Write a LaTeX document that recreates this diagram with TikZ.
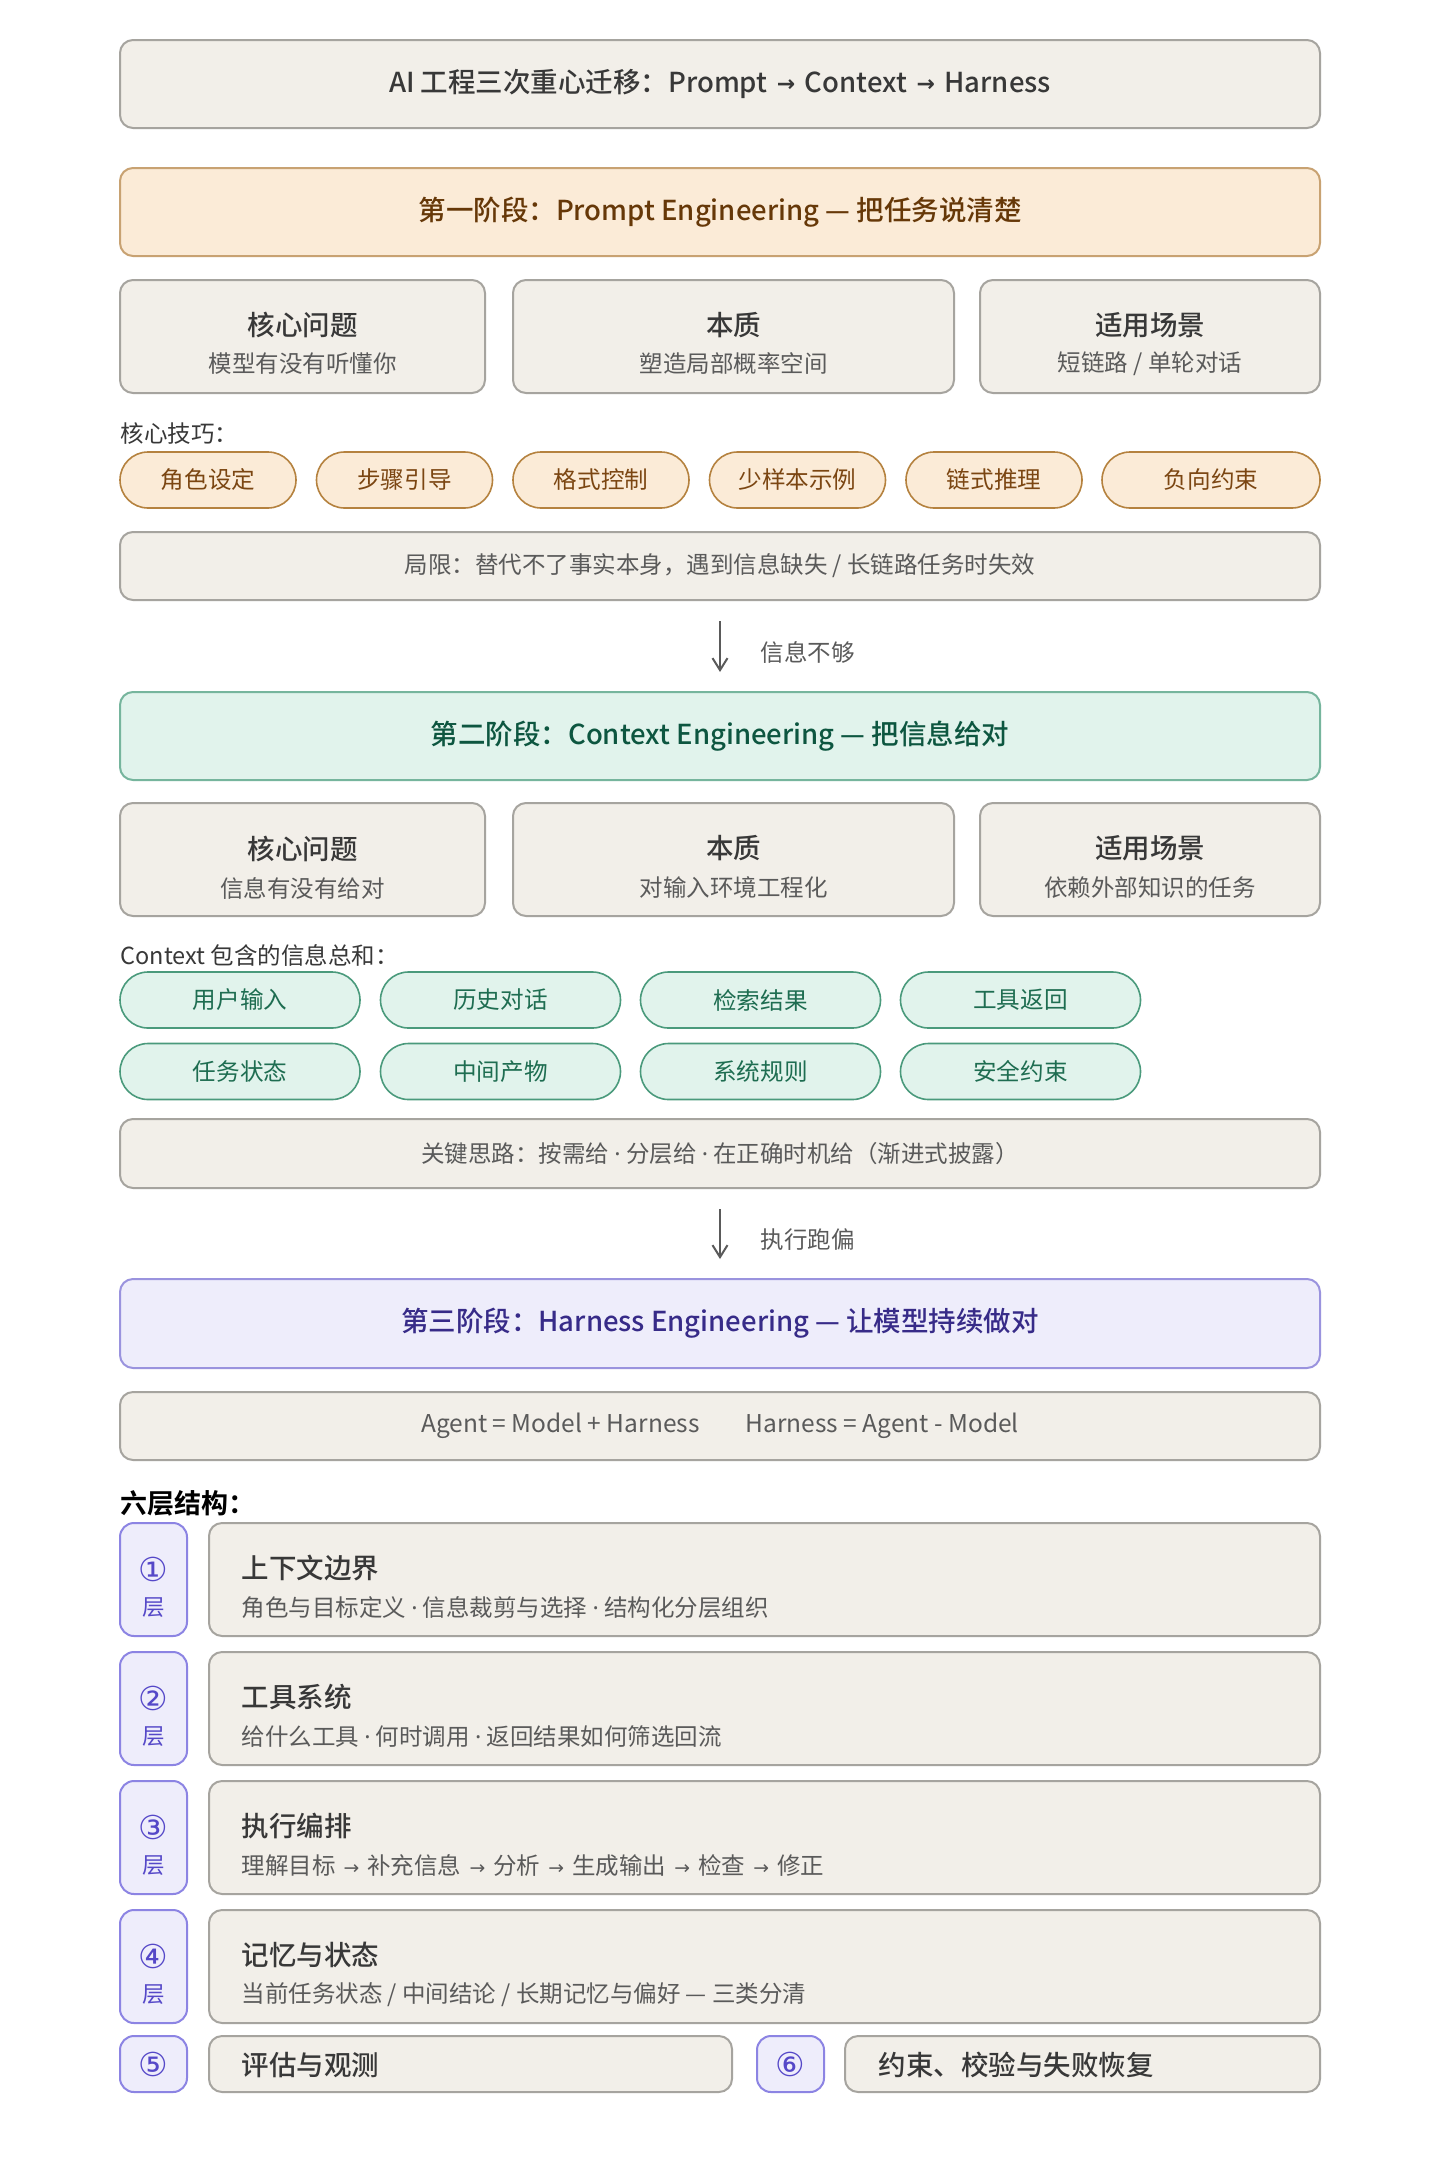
\documentclass[tikz,border=0pt]{standalone}
\usepackage{fontspec}
\setmainfont{Noto Sans CJK SC}[BoldFont={Noto Sans CJK SC Medium}]
\newfontfamily\boldcjk{Noto Sans CJK SC Bold}
\newfontfamily\latinf{Noto Sans}
\newfontfamily\djv{DejaVu Sans}
\newcommand\mdot{{\latinf ·}}
\newcommand\rar{\hspace{0.12em}\raisebox{0.04em}{\scalebox{0.8}{\djv →}}\hspace{0.12em}}
\newcommand\dn[1]{\raisebox{-3.5pt}{#1}}
\usetikzlibrary{arrows.meta}
\definecolor{nfill}{HTML}{F2EFE9}
\definecolor{nborder}{HTML}{A6A49F}
\definecolor{ntext}{HTML}{383838}
\definecolor{nsub}{HTML}{5A5A5A}
\definecolor{ofill}{HTML}{FBEBD7}
\definecolor{oborder}{HTML}{C8A272}
\definecolor{otext}{HTML}{663808}
\definecolor{opborder}{HTML}{B5823F}
\definecolor{optext}{HTML}{7B4612}
\definecolor{gfill}{HTML}{E1F3EC}
\definecolor{gborder}{HTML}{76B59D}
\definecolor{gtext}{HTML}{0D5640}
\definecolor{gpborder}{HTML}{4A9A7C}
\definecolor{gptext}{HTML}{1E6D51}
\definecolor{pfill}{HTML}{EEEDFB}
\definecolor{pborder}{HTML}{9A93DE}
\definecolor{ptext}{HTML}{372B88}
\definecolor{tagborder}{HTML}{8C84E3}
\definecolor{tagtext}{HTML}{5548C8}
\definecolor{arrowc}{HTML}{5A5A5A}
\tikzset{
  boxbase/.style={rounded corners=13pt, line width=2pt, inner sep=0pt},
  nbox/.style={boxbase, draw=nborder, fill=nfill},
  obox/.style={boxbase, draw=oborder, fill=ofill},
  gbox/.style={boxbase, draw=gborder, fill=gfill},
  pbox/.style={boxbase, draw=pborder, fill=pfill},
  tagbox/.style={rounded corners=14pt, line width=2pt, draw=tagborder, fill=pfill, inner sep=0pt, minimum width=67pt},
  opill/.style={rounded corners=28pt, line width=1.6pt, draw=opborder, fill=ofill, minimum height=56pt, inner sep=0pt, text=optext, font=\fontsize{23.6}{28}\selectfont},
  gpill/.style={rounded corners=28pt, line width=1.6pt, draw=gpborder, fill=gfill, minimum height=56pt, minimum width=240pt, inner sep=0pt, text=gptext, font=\fontsize{23.6}{28}\selectfont},
  bigtxt/.style={font=\fontsize{27.5}{32}\selectfont\bfseries},
  boxttl/.style={font=\fontsize{27.5}{32}\selectfont\bfseries, text=ntext},
  boxsub/.style={font=\fontsize{23.5}{28}\selectfont, text=nsub},
  lbl/.style={font=\fontsize{23.5}{28}\selectfont, text=ntext, anchor=west},
  layttl/.style={font=\fontsize{27.5}{32}\selectfont\bfseries, text=ntext, anchor=west},
  laysub/.style={font=\fontsize{23.5}{28}\selectfont, text=nsub, anchor=west},
  tagtxt/.style={font=\fontsize{22.5}{27}\selectfont, text=tagtext},
  tagnum/.style={font=\fontsize{33}{36}\selectfont\djv, text=tagtext},
  arr/.style={-{Straight Barb[length=12pt,width=15pt]}, line width=2pt, draw=arrowc},
}
\begin{document}
\begin{tikzpicture}[x=1pt,y=-1pt]
\useasboundingbox[fill=white] (0,0) rectangle (1440,2160);

% Title
\node[nbox, minimum width=1200pt, minimum height=88pt, bigtxt, text=ntext] (title) at (720,84) {\dn{AI 工程三次重心迁移：Prompt \rar{} Context \rar{} Harness}};

% Stage 1
\node[obox, minimum width=1200pt, minimum height=88pt, bigtxt, text=otext] (s1) at (720,212) {\dn{第一阶段：Prompt Engineering — 把任务说清楚}};

\node[nbox, minimum width=365pt, minimum height=113pt] (s1a) at (302.5,336.5) {};
\node[nbox, minimum width=441pt, minimum height=113pt] (s1b) at (733.5,336.5) {};
\node[nbox, minimum width=340pt, minimum height=113pt] (s1c) at (1150,336.5) {};
\node[boxttl] (s1at) at (302.5,325) {核心问题};
\node[boxsub] (s1as) at (302.5,364) {模型有没有听懂你};
\node[boxttl] (s1bt) at (733.5,325) {本质};
\node[boxsub] (s1bs) at (733.5,364) {塑造局部概率空间};
\node[boxttl] (s1ct) at (1150,325) {适用场景};
\node[boxsub] (s1cs) at (1150,364) {短链路 / 单轮对话};

\node[lbl] (skl) at (117,434) {核心技巧：};
\node[opill, minimum width=176pt] (p1) at (208,480) {\dn{角色设定}};
\node[opill, minimum width=176pt] (p2) at (404.5,480) {\dn{步骤引导}};
\node[opill, minimum width=176pt] (p3) at (601,480) {\dn{格式控制}};
\node[opill, minimum width=176pt] (p4) at (797.5,480) {\dn{少样本示例}};
\node[opill, minimum width=176pt] (p5) at (994,480) {\dn{链式推理}};
\node[opill, minimum width=218pt] (p6) at (1211,480) {\dn{负向约束}};

\node[nbox, minimum width=1200pt, minimum height=68pt, boxsub] (lim) at (720,566) {\dn{局限：替代不了事实本身，遇到信息缺失 / 长链路任务时失效}};

% Arrow 1
\draw[arr, shorten <=20pt, shorten >=20pt] (lim.south) -- (720,692);
\node[lbl, text=nsub] (a1l) at (757,652) {信息不够};

% Stage 2
\node[gbox, minimum width=1200pt, minimum height=88pt, bigtxt, text=gtext] (s2) at (720,736) {\dn{第二阶段：Context Engineering — 把信息给对}};

\node[nbox, minimum width=365pt, minimum height=113pt] (s2a) at (302.5,859.5) {};
\node[nbox, minimum width=441pt, minimum height=113pt] (s2b) at (733.5,859.5) {};
\node[nbox, minimum width=340pt, minimum height=113pt] (s2c) at (1150,859.5) {};
\node[boxttl] (s2at) at (302.5,848.5) {核心问题};
\node[boxsub] (s2as) at (302.5,888) {信息有没有给对};
\node[boxttl] (s2bt) at (733.5,848.5) {本质};
\node[boxsub] (s2bs) at (733.5,888) {对输入环境工程化};
\node[boxttl] (s2ct) at (1150,848.5) {适用场景};
\node[boxsub] (s2cs) at (1150,888) {依赖外部知识的任务};

\node[lbl] (ctxl) at (117,955) {Context 包含的信息总和：};
\node[gpill] (g1) at (240,1000) {\dn{用户输入}};
\node[gpill] (g2) at (500.5,1000) {\dn{历史对话}};
\node[gpill] (g3) at (760.5,1000) {\dn{检索结果}};
\node[gpill] (g4) at (1020.5,1000) {\dn{工具返回}};
\node[gpill] (g5) at (240,1071.5) {\dn{任务状态}};
\node[gpill] (g6) at (500.5,1071.5) {\dn{中间产物}};
\node[gpill] (g7) at (760.5,1071.5) {\dn{系统规则}};
\node[gpill] (g8) at (1020.5,1071.5) {\dn{安全约束}};

\node[nbox, minimum width=1200pt, minimum height=69pt, boxsub] (key) at (720,1153.5) {\dn{关键思路：按需给 \mdot{} 分层给 \mdot{} 在正确时机给（渐进式披露）}};

% Arrow 2
\draw[arr, shorten <=20pt, shorten >=20pt] (key.south) -- (720,1279);
\node[lbl, text=nsub] (a2l) at (757,1240) {执行跑偏};

% Stage 3
\node[pbox, minimum width=1200pt, minimum height=89pt, bigtxt, text=ptext] (s3) at (720,1323.5) {\dn{第三阶段：Harness Engineering — 让模型持续做对}};

\node[nbox, minimum width=1200pt, minimum height=68pt, font=\fontsize{24.5}{29}\selectfont, text=nsub] (form) at (720,1426) {\dn{Agent = Model + Harness\hspace{46pt}Harness = Agent - Model}};

\node[lbl, font=\fontsize{27}{32}\selectfont\boldcjk, text=black] (six) at (117,1503) {六层结构：};

% Layers
\foreach \n/\top/\ttl/\sub in {
  1/1523/上下文边界/{角色与目标定义 \mdot{} 信息裁剪与选择 \mdot{} 结构化分层组织},
  2/1652/工具系统/{给什么工具 \mdot{} 何时调用 \mdot{} 返回结果如何筛选回流},
  3/1781/执行编排/{理解目标 \rar{} 补充信息 \rar{} 分析 \rar{} 生成输出 \rar{} 检查 \rar{} 修正},
  4/1910/记忆与状态/{当前任务状态 / 中间结论 / 长期记忆与偏好 — 三类分清}}{
  \node[tagbox, minimum height=113pt] (t\n) at (153.5,\top+56.5) {};
  \node[tagnum] (t\n a) at (153.5,\top+46) {\ifcase\n\or ①\or ②\or ③\or ④\fi};
  \node[tagtxt] (t\n b) at (153.5,\top+85) {层};
  \node[nbox, minimum width=1111pt, minimum height=113pt] (l\n) at (764.5,\top+56.5) {};
  \node[layttl] (l\n t) at (238,\top+45) {\ttl};
  \node[laysub] (l\n s) at (238,\top+85) {\sub};
}

\node[tagbox, minimum height=56pt, tagnum] (t5) at (153.5,2064) {⑤};
\node[nbox, minimum width=523pt, minimum height=56pt] (l5) at (470.5,2064) {};
\node[layttl] (l5t) at (238,2065) {评估与观测};
\node[tagbox, minimum height=56pt, tagnum] (t6) at (790.5,2064) {⑥};
\node[nbox, minimum width=475pt, minimum height=56pt] (l6) at (1082.5,2064) {};
\node[layttl] (l6t) at (875,2065) {约束、校验与失败恢复};
\end{tikzpicture}
\end{document}
